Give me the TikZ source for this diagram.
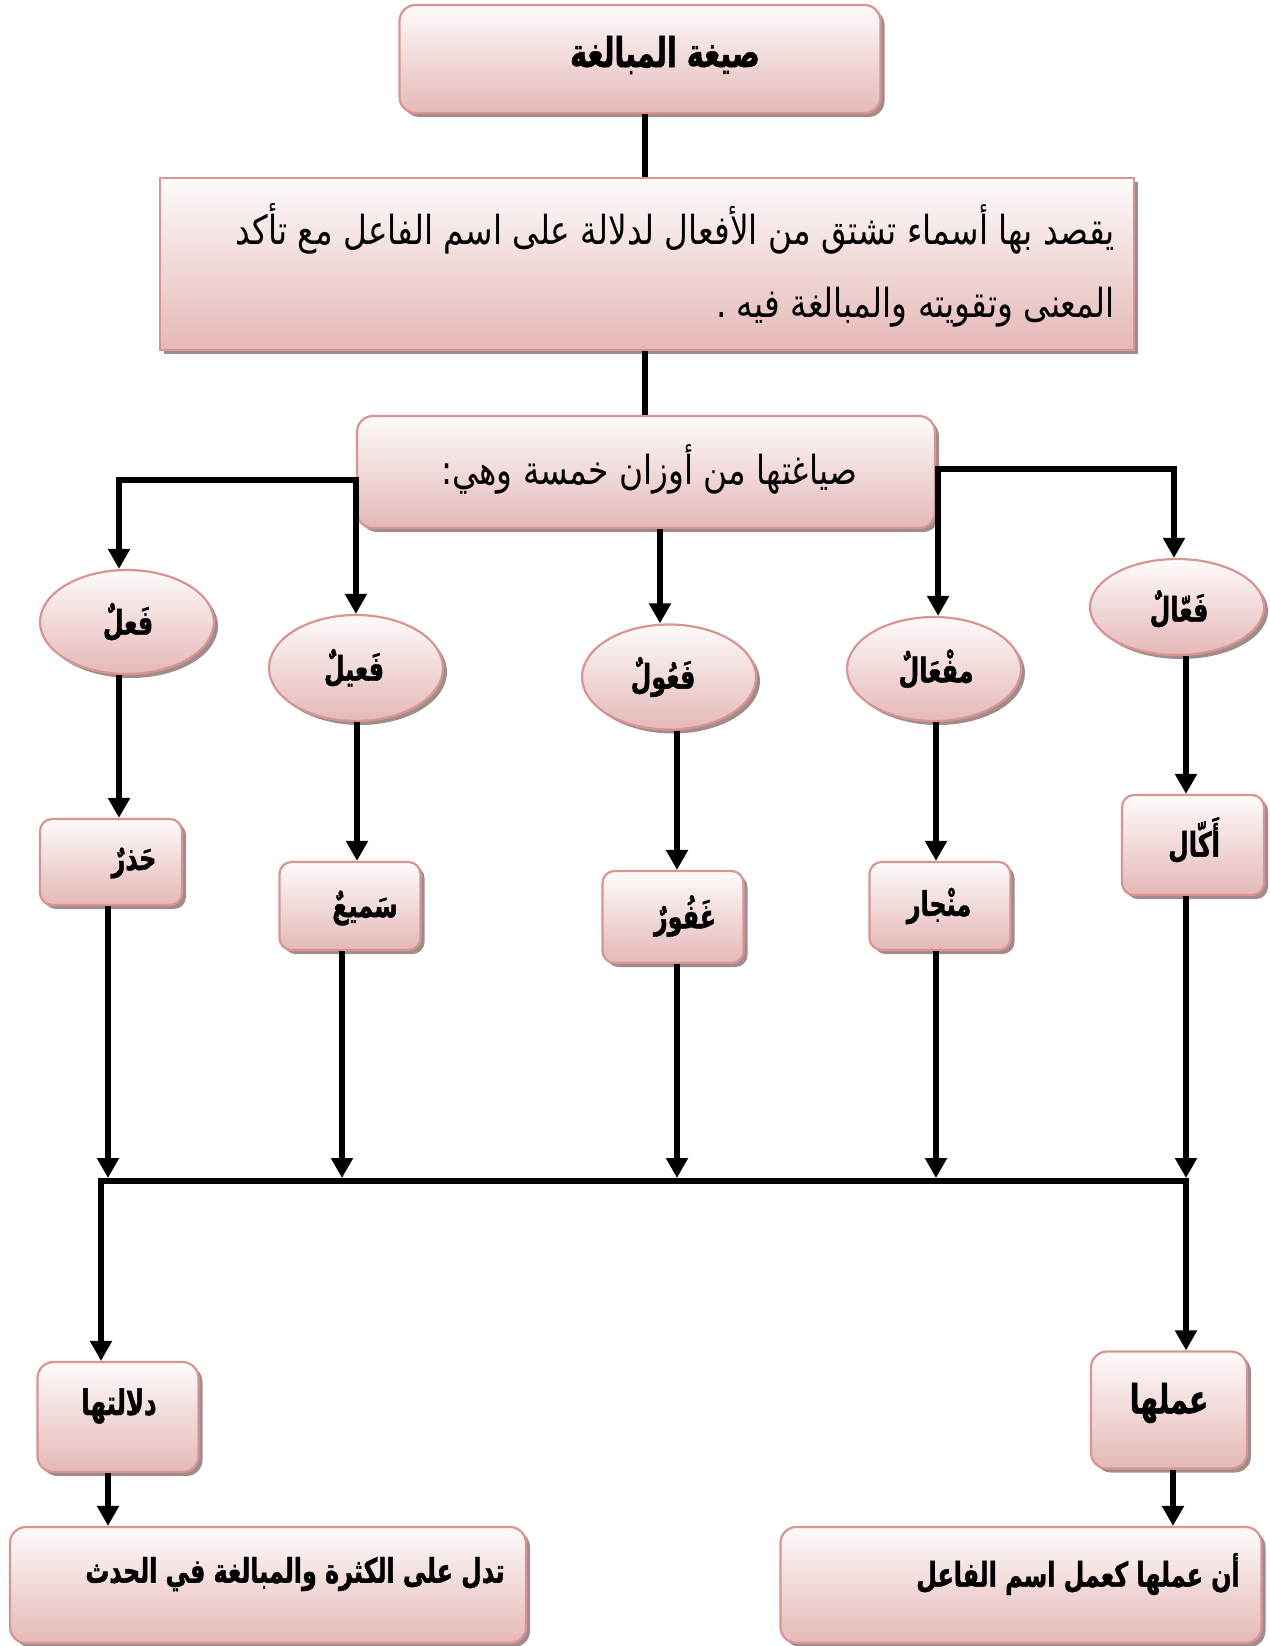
\documentclass[tikz,border=0pt]{standalone}
\usepackage{fontspec}
\TeXXeTstate=1
\newfontfamily\arabfont[Script=Arabic, FakeStretch=0.82]{DejaVu Sans}
\newfontfamily\arabbold[Script=Arabic, FakeStretch=0.7, FakeBold=1.2]{DejaVu Sans Bold}
\usetikzlibrary{shapes.geometric,shadows,arrows.meta}

\definecolor{pinkedge}{RGB}{217,149,148}
\definecolor{pinktop}{RGB}{254,251,251}
\definecolor{pinkbot}{RGB}{229,184,183}
\definecolor{shadowc}{RGB}{160,140,140}

\tikzset{
  boxbase/.style={draw=pinkedge, line width=2.2pt, top color=pinktop, bottom color=pinkbot,
    drop shadow={shadow xshift=4pt, shadow yshift=-4pt, fill=shadowc, opacity=1}, inner sep=0pt},
  rbox/.style={boxbase, rectangle, rounded corners=16pt},
  sbox/.style={boxbase, rectangle},
  oval/.style={boxbase, ellipse},
  conn/.style={line width=6pt, draw=black},
  arr/.style={conn, -{Triangle[width=21pt,length=20pt]}},
  arrboth/.style={conn, {Triangle[width=21pt,length=20pt]}-{Triangle[width=21pt,length=20pt]}},
  txtb/.style={font=\arabbold\fontsize{34}{40}\selectfont, inner sep=0pt},
  txtn/.style={font=\arabfont\fontsize{40}{46}\selectfont, inner sep=0pt},
  wordb/.style={font=\arabbold\fontsize{34}{40}\selectfont, inner sep=0pt},
}

\begin{document}
\begin{tikzpicture}[x=1pt,y=-1pt]
\useasboundingbox (0,0) rectangle (1269,1646);

% boxes
\node[rbox, minimum width=481pt, minimum height=108pt] (top) at (640,59) {};
\node[sbox, minimum width=974pt, minimum height=172pt] (def) at (647,264) {};
\node[rbox, minimum width=578pt, minimum height=112pt] (forms) at (646,472) {};

% the five patterns
\node[oval, minimum width=174pt, minimum height=104pt] (e1) at (127,622) {};
\node[oval, minimum width=174pt, minimum height=106pt] (e2) at (356,668) {};
\node[oval, minimum width=174pt, minimum height=105pt] (e3) at (669,677) {};
\node[oval, minimum width=174pt, minimum height=104pt] (e4) at (934,669) {};
\node[oval, minimum width=174pt, minimum height=96pt] (e5) at (1177,607) {};

% examples
\node[rbox, rounded corners=12pt, minimum width=142pt, minimum height=86pt] (r1) at (111,862) {};
\node[rbox, rounded corners=12pt, minimum width=141pt, minimum height=88pt] (r2) at (350,906) {};
\node[rbox, rounded corners=12pt, minimum width=141pt, minimum height=92pt] (r3) at (673,917) {};
\node[rbox, rounded corners=12pt, minimum width=141pt, minimum height=88pt] (r4) at (940,906) {};
\node[rbox, rounded corners=12pt, minimum width=142pt, minimum height=100pt] (r5) at (1193,845) {};

% meaning and function
\node[rbox, minimum width=161pt, minimum height=110pt] (dbox) at (118,1417) {};
\node[rbox, minimum width=156pt, minimum height=117pt] (abox) at (1169,1410) {};
\node[rbox, minimum width=516pt, minimum height=116pt] (bl) at (268,1585) {};
\node[rbox, minimum width=481pt, minimum height=116pt] (br) at (1021,1585) {};

% texts
\node[txtb, font=\arabbold\fontsize{41}{46}\selectfont] (ttop) at (665,55) {\beginR صيغة المبالغة\endR};
\node[txtn, anchor=east] (tdef1) at (1115,229) {\beginR يقصد بها أسماء تشتق من الأفعال لدلالة على اسم الفاعل مع تأكد\endR};
\node[txtn, anchor=east] (tdef2) at (1115,307) {\beginR المعنى وتقويته والمبالغة فيه .\endR};
\node[txtn] (tforms) at (649,469) {\beginR صياغتها من أوزان خمسة وهي:\endR};

\node[wordb] (te1) at (128,622) {\beginR فَعلٌ\endR};
\node[wordb] (te2) at (354,668) {\beginR فَعيلٌ\endR};
\node[wordb] (te3) at (663,677) {\beginR فَعُولٌ\endR};
\node[wordb] (te4) at (936,669) {\beginR مفْعَالٌ\endR};
\node[wordb] (te5) at (1179,609) {\beginR فَعّالٌ\endR};

\node[wordb] (tr1) at (134,863) {\beginR حَذرٌ\endR};
\node[wordb] (tr2) at (365,908) {\beginR سَميعٌ\endR};
\node[wordb] (tr3) at (685,916) {\beginR غَفُورٌ\endR};
\node[wordb] (tr4) at (939,906) {\beginR منْجار\endR};
\node[wordb] (tr5) at (1194,840) {\beginR أَكّال\endR};

\node[txtb, font=\arabbold\fontsize{35}{40}\selectfont] (td) at (119,1406) {\beginR دلالتها\endR};
\node[txtb, font=\arabbold\fontsize{40}{46}\selectfont] (ta) at (1169,1403) {\beginR عملها\endR};
\node[txtb] (tbl) at (295,1574) {\beginR تدل على الكثرة والمبالغة في الحدث\endR};
\node[txtb] (tbr) at (1078,1574) {\beginR أن عملها كعمل اسم الفاعل\endR};

% connectors
\coordinate (jl) at ([yshift=-8pt]forms.west);
\coordinate (jr) at ([xshift=2pt,yshift=3pt]forms.east);
\coordinate (busL) at (101,1181);
\coordinate (busR) at (1186,1181);

\draw[conn] ([xshift=5pt]top.south) -- ([xshift=5pt]top.south |- def.north);
\draw[conn] ([xshift=-2pt]def.south) -- ([xshift=-2pt]def.south |- forms.north);

\draw[arrboth] (jl |- e2.north) -- (jl) -| ([xshift=-8pt]e1.north);
\draw[arr] ([xshift=14pt]forms.south) -- ([xshift=14pt]forms.south |- e3.north);
\draw[arrboth] (jr |- e4.north) -- (jr) -| ([xshift=-3pt]e5.north);

\draw[arr] ([xshift=-8pt]e1.south) -- ([xshift=-8pt]e1.south |- r1.north);
\draw[arr] ([xshift=1pt]e2.south) -- ([xshift=1pt]e2.south |- r2.north);
\draw[arr] ([xshift=8pt]e3.south) -- ([xshift=8pt]e3.south |- r3.north);
\draw[arr] ([xshift=2pt]e4.south) -- ([xshift=2pt]e4.south |- r4.north);
\draw[arr] ([xshift=9pt]e5.south) -- ([xshift=9pt]e5.south |- r5.north);

\draw[arr] ([xshift=-3pt]r1.south) -- ([xshift=-3pt,yshift=3pt]r1.south |- busL);
\draw[arr] ([xshift=-8pt]r2.south) -- ([xshift=-8pt,yshift=3pt]r2.south |- busL);
\draw[arr] ([xshift=4pt]r3.south) -- ([xshift=4pt,yshift=3pt]r3.south |- busL);
\draw[arr] ([xshift=-4pt]r4.south) -- ([xshift=-4pt,yshift=3pt]r4.south |- busL);
\draw[arr] ([xshift=-7pt]r5.south) -- ([xshift=-7pt,yshift=3pt]r5.south |- busL);

\draw[arrboth] (busL |- dbox.north) -- (busL) -- (busR) -- (busR |- abox.north);

\draw[arr] ([xshift=-10pt]dbox.south) -- ([xshift=-10pt]dbox.south |- bl.north);
\draw[arr] ([xshift=4pt]abox.south) -- ([xshift=4pt]abox.south |- br.north);
\end{tikzpicture}
\end{document}
